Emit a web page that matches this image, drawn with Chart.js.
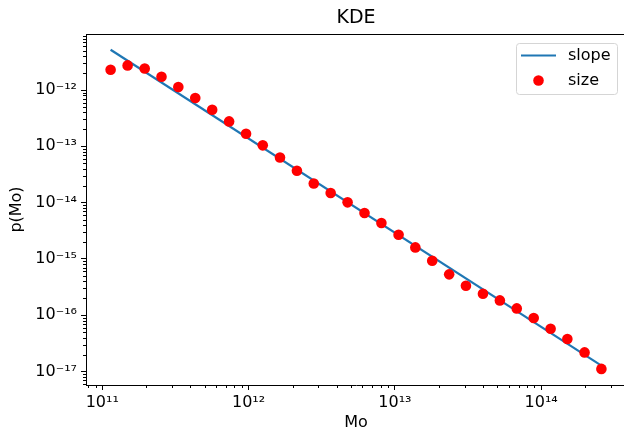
<!DOCTYPE html>
<html>
<head>
<meta charset="utf-8">
<script src="https://cdn.jsdelivr.net/npm/chart.js@4.4.1/dist/chart.umd.min.js"></script>
<style>
  html, body { margin: 0; padding: 0; background: #fff; overflow: hidden; }
  #wrap { width: 640px; height: 434px; }
</style>
</head>
<body>
<div id="wrap"><canvas id="kdeChart" width="640" height="434"></canvas></div>
<script>
// Mass bins (x) and KDE values (y)
const massBins = [1.14e11, 1.49e11, 1.95e11, 2.54e11, 3.31e11, 4.32e11, 5.64e11, 7.36e11, 9.61e11, 1.25e12,
                  1.64e12, 2.14e12, 2.79e12, 3.64e12, 4.75e12, 6.20e12, 8.09e12, 1.06e13, 1.38e13, 1.80e13,
                  2.35e13, 3.06e13, 4.00e13, 5.22e13, 6.81e13, 8.89e13, 1.16e14, 1.51e14, 1.98e14, 2.58e14];
const sizeValues = [2.30e-12, 2.74e-12, 2.42e-12, 1.72e-12, 1.13e-12, 7.21e-13, 4.47e-13, 2.77e-13, 1.67e-13, 1.04e-13,
                    6.35e-14, 3.69e-14, 2.19e-14, 1.48e-14, 1.01e-14, 6.53e-15, 4.35e-15, 2.69e-15, 1.60e-15, 9.29e-16,
                    5.31e-16, 3.34e-16, 2.41e-16, 1.83e-16, 1.32e-16, 8.91e-17, 5.75e-17, 3.78e-17, 2.18e-17, 1.11e-17];
// fitted power law, end points
const slopeX = [1.14e11, 2.58e14];
const slopeY = [5.2e-12, 1.27e-17];

const xTicks = [1e11, 1e12, 1e13, 1e14];
const yTicks = [1e-12, 1e-13, 1e-14, 1e-15, 1e-16, 1e-17];
const xRange = [7.74e10, 3.80e14];
const yRange = [5.75e-18, 9.9e-12];

const FONT = 'DejaVu Sans';
Chart.defaults.font.family = FONT;
Chart.defaults.color = '#000';

const SUP = {'-': '\u207B', '0': '\u2070', '1': '\u00B9', '2': '\u00B2', '3': '\u00B3', '4': '\u2074',
             '5': '\u2075', '6': '\u2076', '7': '\u2077', '8': '\u2078', '9': '\u2079'};
function powLabel(v) {
    const e = String(Math.round(Math.log10(v)));
    return '10' + e.split('').map(c => SUP[c]).join('');
}

// minor log ticks, top spine and the boxed legend inside the axes
const extras = {
    id: 'extras',
    afterDraw(chart) {
        const ctx = chart.ctx;
        const area = chart.chartArea;
        const xs = chart.scales.x, ys = chart.scales.y;
        ctx.save();
        ctx.strokeStyle = '#000';
        ctx.lineWidth = 1;
        ctx.beginPath();
        for (let n = 10; n <= 14; n++) {
            for (let k = 2; k <= 9; k++) {
                const v = k * Math.pow(10, n);
                if (v < xs.min || v > xs.max) continue;
                const px = Math.round(xs.getPixelForValue(v)) + 0.5;
                ctx.moveTo(px, area.bottom);
                ctx.lineTo(px, area.bottom + 3);
            }
        }
        for (let n = -18; n <= -12; n++) {
            for (let k = 2; k <= 9; k++) {
                const v = k * Math.pow(10, n);
                if (v < ys.min || v > ys.max) continue;
                const py = Math.round(ys.getPixelForValue(v)) + 0.5;
                ctx.moveTo(area.left, py);
                ctx.lineTo(area.left - 3, py);
            }
        }
        // top spine
        ctx.moveTo(area.left, area.top + 0.5);
        ctx.lineTo(area.right, area.top + 0.5);
        ctx.stroke();

        // legend
        const bx = area.right - 9 - 101, by = area.top + 9, bw = 101, bh = 51;
        ctx.fillStyle = 'rgba(255,255,255,0.8)';
        ctx.strokeStyle = '#d5d5d5';
        ctx.beginPath();
        ctx.roundRect(bx + 0.5, by + 0.5, bw, bh, 3);
        ctx.fill();
        ctx.stroke();
        ctx.strokeStyle = '#1f77b4';
        ctx.lineWidth = 2.2;
        ctx.beginPath();
        ctx.moveTo(bx + 5, by + 12.5);
        ctx.lineTo(bx + 40, by + 12.5);
        ctx.stroke();
        ctx.fillStyle = '#ff0000';
        ctx.beginPath();
        ctx.arc(bx + 22.5, by + 37.5, 5.3, 0, Math.PI * 2);
        ctx.fill();
        ctx.fillStyle = '#000';
        ctx.font = '16px ' + FONT;
        ctx.textBaseline = 'middle';
        ctx.fillText('slope', bx + 52, by + 12.5);
        ctx.fillText('size', bx + 52, by + 37.5);
        ctx.restore();
    }
};

const ctx = document.getElementById('kdeChart').getContext('2d');
const kdeChart = new Chart(ctx, {
    type: 'scatter',
    data: {
        datasets: [{
            type: 'line',
            label: 'slope',
            data: slopeX.map((x, i) => ({x: x, y: slopeY[i]})),
            borderColor: '#1f77b4',
            borderWidth: 2.2,
            pointRadius: 0,
            fill: false,
            order: 2
        }, {
            label: 'size',
            data: massBins.map((x, i) => ({x: x, y: sizeValues[i]})),
            backgroundColor: '#ff0000',
            borderWidth: 0,
            pointRadius: 5.3,
            order: 1
        }]
    },
    options: {
        responsive: false,
        animation: false,
        layout: { padding: { left: 0, right: 14, top: 0, bottom: 0 } },
        scales: {
            x: {
                type: 'logarithmic',
                min: xRange[0],
                max: xRange[1],
                afterBuildTicks: function(scale) {
                    scale.ticks = xTicks.map(v => ({value: v, major: true}));
                },
                afterFit: function(scale) { scale.height = 49; },
                ticks: {
                    autoSkip: false,
                    maxRotation: 0,
                    padding: 3,
                    font: { size: 16 },
                    callback: function(value) { return powLabel(value); }
                },
                grid: { drawOnChartArea: false, tickLength: 5, tickColor: '#000' },
                border: { color: '#000', width: 1 },
                title: { display: true, text: 'Mo', font: { size: 16 }, padding: { top: 0, bottom: 2 } }
            },
            y: {
                type: 'logarithmic',
                min: yRange[0],
                max: yRange[1],
                afterBuildTicks: function(scale) {
                    scale.ticks = yTicks.map(v => ({value: v, major: true}));
                },
                afterFit: function(scale) { scale.width = 86; },
                ticks: {
                    autoSkip: false,
                    padding: 4,
                    font: { size: 16 },
                    callback: function(value) { return powLabel(value); }
                },
                grid: { drawOnChartArea: false, tickLength: 5, tickColor: '#000' },
                border: { color: '#000', width: 1 },
                title: { display: true, text: 'p(Mo)', font: { size: 16 }, padding: { top: 7, bottom: 0 } }
            }
        },
        plugins: {
            legend: { display: false },
            tooltip: { enabled: false },
            title: {
                display: true,
                text: 'KDE',
                fullSize: false,
                font: { size: 19, weight: 'normal' },
                color: '#000',
                padding: { top: 7, bottom: 4.2 }
            }
        }
    },
    plugins: [extras]
});
</script>
</body>
</html>
